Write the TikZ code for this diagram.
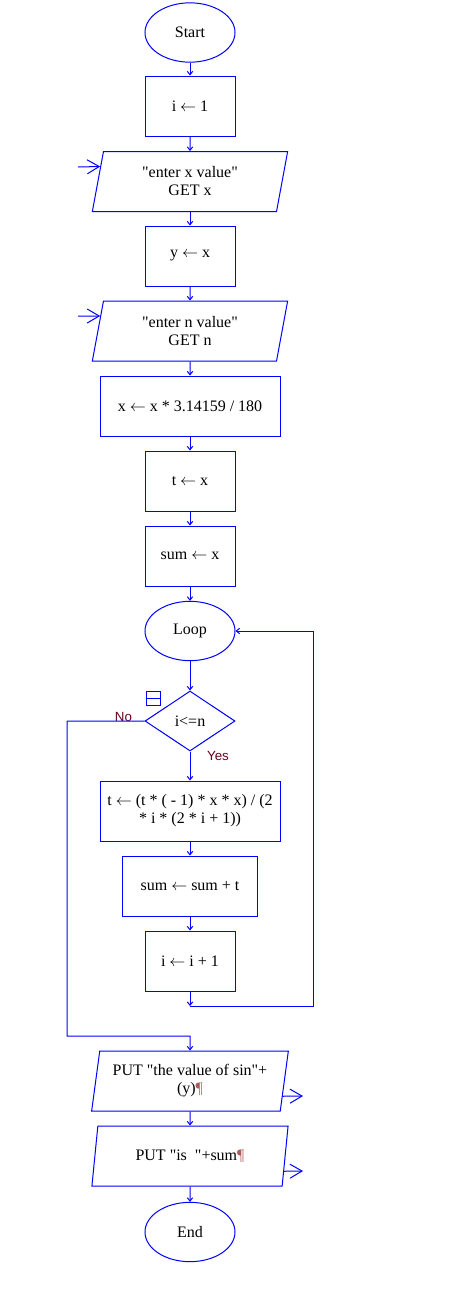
\documentclass[tikz,border=0pt]{standalone}
\usepackage{fontspec}
\setmainfont{Liberation Serif}[Ligatures=TeXOff]
\newfontfamily\labelfont{Liberation Sans}
\usetikzlibrary{shapes.geometric,arrows.meta,calc}
\definecolor{flowblue}{RGB}{0,0,255}
\definecolor{branchred}{RGB}{110,0,30}
\definecolor{markgrey}{RGB}{175,90,90}

\begin{document}
\begin{tikzpicture}[x=0.75pt, y=-0.75pt,
	every node/.style={font=\fontsize{12pt}{13.5pt}\selectfont},
	box/.style={draw=flowblue, line width=0.75pt, rectangle, minimum height=45pt, inner sep=2pt, align=center},
	terminal/.style={draw=flowblue, line width=0.75pt, ellipse, minimum width=67.5pt, minimum height=44.5pt},
	inout/.style={draw=flowblue, line width=0.75pt, trapezium, trapezium left angle=80, trapezium right angle=100, trapezium stretches=true, minimum width=147.75pt, minimum height=45pt, align=center},
	decision/.style={draw=flowblue, line width=0.75pt, diamond, minimum width=67.5pt, minimum height=45pt, inner sep=0pt},
	flow/.style={draw=flowblue, line width=0.75pt, -{Straight Barb[length=2.5pt,width=4pt]}},
	port/.style={draw=flowblue, line width=0.75pt, -{Straight Barb[length=9pt,width=10.5pt]}},
	branch/.style={font=\labelfont\fontsize{10pt}{12pt}\selectfont, text=branchred, inner sep=0pt}]

		\useasboundingbox (0,0) rectangle (449,1297);

		\node [terminal] (start) at (190, 32.5) {Start};
		\node [box, minimum width=67.5pt] (init) at (190, 106) {i $\leftarrow$ 1};
		\node [inout] (getx) at (190, 181.5) {"enter x value"\\GET x};
		\node [box, minimum width=67.5pt] (ycopy) at (190, 256) {y $\leftarrow$ x};
		\node [inout] (getn) at (190, 331) {"enter n value"\\GET n};
		\node [box, minimum width=135pt] (conv) at (190, 406) {x $\leftarrow$ x * 3.14159 / 180};
		\node [box, minimum width=67.5pt] (tinit) at (190, 481) {t $\leftarrow$ x};
		\node [box, minimum width=67.5pt] (suminit) at (190, 556) {sum $\leftarrow$ x};

		\node [terminal] (loop) at (190, 631) {Loop};
		\node [decision] (cond) at (190, 721) {i<=n};
		\node [draw=flowblue, line width=0.75pt, minimum size=10.5pt, inner sep=0pt] (fold) at (153, 698.5) {};
		\draw [flowblue, line width=0.75pt] (fold.west) -- (fold.east);
		\node [branch] (nolbl) at (123.5, 717) {No};
		\node [branch] (yeslbl) at (218, 756) {Yes};

		\node [box, minimum width=135pt] (tupd) at (190, 811) {t $\leftarrow$ (t * ( - 1) * x * x) / (2\\{}* i * (2 * i + 1))};
		\node [box, minimum width=101.25pt] (sumupd) at (190, 886) {sum $\leftarrow$ sum + t};
		\node [box, minimum width=67.5pt] (inc) at (190, 961) {i $\leftarrow$ i + 1};

		\node [inout] (putsin) at (190, 1081) {PUT "the value of sin"+\\(y){\color{markgrey}¶}};
		\node [inout] (putsum) at (190, 1156) {PUT "is~~"+sum{\color{markgrey}¶}};
		\node [terminal] (stop) at (190, 1232) {End};

		% main line
		\draw [flow] (start) -- (init);
		\draw [flow] (init) -- (getx);
		\draw [flow] (getx) -- (ycopy);
		\draw [flow] (ycopy) -- (getn);
		\draw [flow] (getn) -- (conv);
		\draw [flow] (conv) -- (tinit);
		\draw [flow] (tinit) -- (suminit);
		\draw [flow] (suminit) -- (loop);
		\draw [flow] (loop) -- (cond);
		\draw [flow] (cond) -- (tupd);
		\draw [flow] (tupd) -- (sumupd);
		\draw [flow] (sumupd) -- (inc);
		\draw [flow] (putsin) -- (putsum);
		\draw [flow] (putsum) -- (stop);

		% back to loop
		\coordinate (backjoin) at (190, 1006);
		\coordinate (backright) at (313, 1006);
		\draw [flow] (inc) -- (backjoin);
		\draw [flow] (backjoin) -- (backright) |- (loop.east);

		% exit
		\coordinate (noleft) at (67, 1036);
		\coordinate (nojoin) at (190, 1036);
		\draw [flow] (cond.west) -| (noleft) -- (nojoin) -- (putsin);

		% input and output
		\coordinate (xin) at (78, 167);
		\coordinate (nin) at (78, 316);
		\coordinate (sinout) at (303, 1096);
		\coordinate (sumout) at (303, 1171);
		\draw [port] (xin) -- ($(getx.bottom left corner)!0.746!(getx.top left corner)$);
		\draw [port] (nin) -- ($(getn.bottom left corner)!0.746!(getn.top left corner)$);
		\draw [port] ($(putsin.bottom right corner)!0.25!(putsin.top right corner)$) -- (sinout);
		\draw [port] ($(putsum.bottom right corner)!0.25!(putsum.top right corner)$) -- (sumout);
	\end{tikzpicture}
\end{document}
